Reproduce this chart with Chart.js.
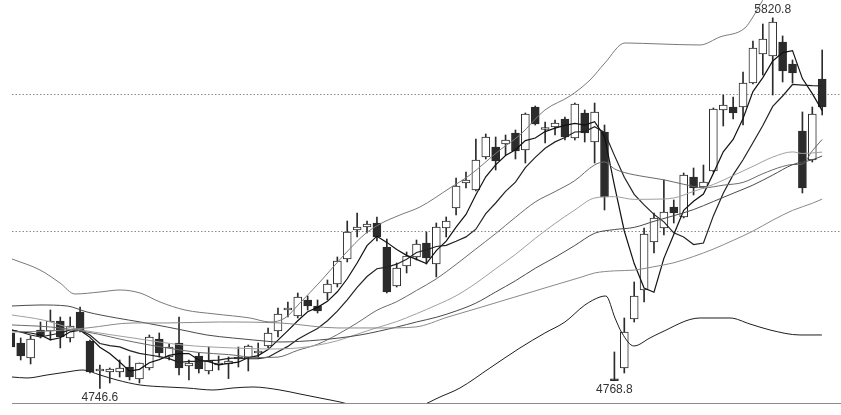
<!DOCTYPE html>
<html>
<head>
<meta charset="utf-8">
<script src="https://cdn.jsdelivr.net/npm/chart.js@4.4.0/dist/chart.umd.min.js"></script>
<style>
  html, body { margin: 0; padding: 0; background: #fff; }
  #wrap { width: 841px; height: 415px; }
</style>
</head>
<body>
<div id="wrap"><canvas id="my-chart"></canvas></div>
<script>
'use strict';

// >>> Candle data, one entry per bar <<<
let openArr = [
  4907.3, 4878.3, 4834.8, 4916.0, 4913.1, 4942.0, 4892.8, 4968.1, 4884.1, 4797.1,
  4794.2, 4794.2, 4808.7, 4773.9, 4805.8, 4889.9, 4837.7, 4878.3, 4811.6, 4840.6,
  4797.1, 4814.5, 4817.4, 4831.9, 4834.8, 4849.3, 4869.6, 4913.1, 4973.9, 4956.5,
  5002.9, 4985.5, 5023.2, 5049.3, 5121.8, 5205.8, 5214.5, 5226.1, 5156.5, 5043.5,
  5101.5, 5127.6, 5168.1, 5107.3, 5211.6, 5269.6, 5342.1, 5321.8, 5417.4, 5446.4,
  5455.1, 5487.0, 5437.7, 5562.3, 5497.1, 5504.4, 5527.6, 5472.5, 5545.0, 5460.9,
  5489.9, 4772.0, 4805.8, 4947.8, 5031.9, 5171.0, 5211.6, 5272.5, 5243.5, 5359.4,
  5330.5, 5376.8, 5553.7, 5562.3, 5562.3, 5631.9, 5716.0, 5710.2, 5750.8, 5687.0,
  5492.8, 5408.7, 5643.5
];
let highArr = [
  4916.0, 4892.8, 4898.6, 4939.1, 4973.9, 4953.6, 4953.6, 4982.6, 4887.0, 4814.5,
  4805.8, 4829.0, 4840.6, 4820.3, 4901.5, 4907.3, 4875.4, 4953.6, 4829.0, 4849.3,
  4866.7, 4840.6, 4837.7, 4866.7, 4872.5, 4878.3, 4921.8, 4979.7, 4997.1, 5023.2,
  5014.5, 5002.9, 5060.9, 5127.6, 5231.9, 5255.1, 5231.9, 5243.5, 5179.7, 5110.2,
  5142.0, 5176.8, 5200.0, 5226.1, 5243.5, 5356.5, 5373.9, 5469.6, 5484.1, 5475.4,
  5481.2, 5495.7, 5545.0, 5565.2, 5518.9, 5524.7, 5533.4, 5573.9, 5553.7, 5573.9,
  5510.2, 4852.2, 4950.7, 5055.1, 5211.6, 5255.1, 5350.8, 5292.8, 5371.0, 5385.5,
  5394.2, 5559.4, 5597.1, 5591.3, 5663.8, 5753.7, 5802.9, 5820.8, 5768.2, 5698.6,
  5547.9, 5562.3, 5727.6
];
let lowArr = [
  4858.0, 4829.0, 4817.4, 4892.8, 4887.0, 4863.8, 4881.2, 4910.2, 4791.3, 4746.6,
  4762.3, 4779.7, 4771.0, 4762.3, 4800.0, 4837.7, 4829.0, 4785.5, 4771.0, 4791.3,
  4788.4, 4800.0, 4775.0, 4808.7, 4797.1, 4837.7, 4863.8, 4895.7, 4953.6, 4950.7,
  4973.9, 4965.2, 5002.9, 5040.6, 5113.1, 5185.5, 5197.1, 5173.9, 5023.2, 5040.6,
  5081.2, 5118.9, 5107.3, 5069.6, 5185.5, 5249.3, 5327.6, 5318.9, 5411.6, 5379.7,
  5423.2, 5411.6, 5400.0, 5510.2, 5458.0, 5481.2, 5466.7, 5466.7, 5460.9, 5400.0,
  5263.8, 4768.8, 4791.3, 4939.1, 4997.1, 5139.1, 5191.3, 5226.1, 5240.6, 5307.3,
  5327.6, 5373.9, 5507.3, 5527.6, 5510.2, 5629.0, 5655.1, 5597.1, 5634.8, 5631.9,
  5313.1, 5402.9, 5539.2
];
let closeArr = [
  4866.7, 4840.6, 4889.9, 4898.6, 4942.0, 4895.7, 4927.6, 4913.1, 4794.2, 4800.0,
  4802.9, 4805.8, 4779.7, 4820.3, 4895.7, 4849.3, 4866.7, 4805.8, 4820.3, 4802.9,
  4826.1, 4820.3, 4826.1, 4837.7, 4869.6, 4855.1, 4907.3, 4962.3, 4976.8, 5011.6,
  4985.5, 4971.0, 5049.3, 5116.0, 5200.0, 5214.5, 5223.2, 5185.5, 5026.1, 5095.7,
  5130.5, 5165.2, 5124.7, 5214.5, 5231.9, 5333.4, 5350.8, 5408.7, 5475.4, 5405.8,
  5466.7, 5434.8, 5542.1, 5513.1, 5500.0, 5516.0, 5475.4, 5571.0, 5487.0, 5547.9,
  5301.5, 4768.8, 4910.2, 5014.5, 5194.2, 5240.6, 5258.0, 5255.1, 5365.2, 5327.6,
  5345.0, 5556.5, 5568.1, 5545.0, 5631.9, 5733.4, 5759.5, 5808.7, 5666.7, 5660.9,
  5327.6, 5542.1, 5562.3
];

// >>> Fast averages, read at every bar <<<
let ma5 = [
  4916.0, 4910.2, 4907.3, 4901.5, 4887.6, 4893.4, 4910.7, 4915.4, 4894.5, 4866.1,
  4847.6, 4823.2, 4796.5, 4801.8, 4820.9, 4830.2, 4842.3, 4847.6, 4847.6, 4829.0,
  4824.4, 4815.1, 4819.2, 4822.6, 4836.0, 4841.8, 4859.2, 4886.4, 4914.2, 4942.6,
  4968.7, 4981.5, 4998.9, 5026.7, 5064.4, 5110.2, 5160.6, 5187.9, 5169.9, 5149.0,
  5132.2, 5120.6, 5108.4, 5146.1, 5173.4, 5213.9, 5251.0, 5307.9, 5360.0, 5394.8,
  5421.5, 5438.3, 5465.0, 5472.5, 5491.0, 5500.9, 5509.0, 5514.8, 5509.6, 5519.5,
  5476.6, 5335.1, 5202.9, 5108.4, 5037.7, 5025.5, 5123.5, 5192.5, 5262.6, 5289.3,
  5310.2, 5369.9, 5432.5, 5468.4, 5529.3, 5607.0, 5647.6, 5695.7, 5720.0, 5725.8,
  5644.7, 5601.2, 5551.9
];
let ma10 = [
  4916.0, 4910.2, 4901.5, 4895.7, 4901.5, 4907.3, 4916.0, 4916.0, 4901.5, 4876.8,
  4870.5, 4867.0, 4856.0, 4848.1, 4843.5, 4838.9, 4832.8, 4822.1, 4824.7, 4825.0,
  4827.3, 4828.7, 4833.4, 4835.1, 4832.5, 4833.1, 4837.1, 4852.8, 4868.4, 4889.3,
  4905.2, 4920.3, 4942.6, 4970.5, 5003.5, 5039.4, 5071.0, 5093.4, 5098.3, 5106.7,
  5121.2, 5140.6, 5148.1, 5158.0, 5161.2, 5173.1, 5185.8, 5208.1, 5253.1, 5284.1,
  5317.7, 5344.7, 5386.4, 5416.3, 5442.9, 5461.2, 5473.7, 5489.9, 5491.0, 5505.3,
  5488.7, 5422.1, 5358.9, 5309.0, 5278.6, 5251.0, 5229.3, 5197.7, 5185.5, 5163.5,
  5167.9, 5246.7, 5312.5, 5365.5, 5409.3, 5458.6, 5508.7, 5564.1, 5594.2, 5627.6,
  5625.8, 5624.4, 5623.8
];

// >>> Slow averages, read at a few bars (bar position, value) <<<
let ma20Idx = [0.12, 4, 7.7, 12.4, 15.8, 19, 22, 25, 27, 29, 31, 33, 35, 37, 39, 41, 43, 45, 47, 49,
  51, 53, 55, 57, 59, 60, 61, 62, 64, 66, 68, 70, 72, 74, 76, 78, 79, 80, 81, 82];
let ma20 = [4930.5, 4924.6, 4910.2, 4881.2, 4863.8, 4850.7, 4844.7, 4836.0, 4837.4, 4857.1,
  4874.5, 4902.6, 4936.3, 4973.1, 4998.0, 5030.5, 5064.1, 5106.1, 5150.8, 5195.4,
  5242.6, 5287.0, 5317.1, 5349.0, 5394.5, 5403.2, 5383.2, 5372.5, 5360.6, 5351.3,
  5338.3, 5328.1, 5335.7, 5343.8, 5369.0, 5389.9, 5395.4, 5396.8, 5435.4, 5468.2];

let ma30Idx = [0.12, 3.25, 5.7, 7.7, 12.35, 17.4, 22.5, 26, 29, 31, 33, 35, 37, 39, 41, 43, 45, 47,
  49, 51, 53, 55, 57, 59, 61, 63, 65, 67, 69, 71, 73, 75, 77, 79, 80, 82];
let ma30 = [4959.4, 4944.9, 4924.6, 4913.1, 4892.8, 4872.5, 4863.8, 4860.9, 4863.8, 4871.9,
  4884.7, 4903.8, 4922.6, 4940.3, 4963.2, 4987.9, 5015.1, 5051.3, 5093.4, 5135.1,
  5181.5, 5224.7, 5263.8, 5298.6, 5302.4, 5294.5, 5295.1, 5298.6, 5317.7, 5337.7,
  5363.5, 5390.2, 5417.1, 5432.2, 5427.6, 5431.7];

let ma40Idx = [0.12, 2.95, 5.7, 7.7, 10.7, 13.1, 15.8, 17.8, 19.8, 22.4, 24.5, 27.2, 31.2, 35.3,
  39, 41, 43, 45, 47, 49, 51, 53, 55, 57, 59, 61, 63, 65, 67, 69, 71, 73, 75, 77, 79, 81, 82];
let ma40 = [4985.5, 4988.4, 4985.5, 4968.1, 4950.7, 4939.1, 4924.6, 4913.1, 4901.5, 4892.8,
  4887.0, 4881.2, 4887.0, 4901.5, 4924.4, 4939.1, 4952.8, 4971.0, 4993.9, 5026.1,
  5058.6, 5094.8, 5126.7, 5160.9, 5196.3, 5207.0, 5213.4, 5231.0, 5247.3, 5265.0,
  5288.4, 5312.2, 5336.0, 5365.0, 5395.1, 5409.3, 5420.3];

let ma60Idx = [0.12, 3.96, 7.7, 12.35, 15.78, 21.1, 27.2, 33.06, 37.3, 40.85, 44.18, 47.6, 50.95,
  54.3, 57.7, 59, 61, 63, 65, 67, 69, 71, 73, 75, 77, 79, 81, 82];
let ma60 = [4910.2, 4913.1, 4921.8, 4936.3, 4936.3, 4939.1, 4936.3, 4921.8, 4921.8, 4924.6,
  4953.6, 4982.6, 5011.6, 5040.6, 5069.6, 5081.2, 5087.3, 5089.6, 5099.4, 5110.8,
  5129.0, 5150.5, 5175.7, 5202.6, 5234.2, 5262.6, 5283.2, 5295.4];

// >>> Band lines <<<
let bandUpIdx = [0.12, 2.95, 4.97, 6.49, 9.01, 11.04, 13.06, 15.08, 17.6, 20.63, 24.17, 26.19,
  27.71, 29.22, 31.24, 33.77, 35.79, 37.31, 39.33, 41.35, 44.38, 46.4, 49.43, 51.45, 53.98,
  56.51, 58.53, 60.04, 62.06, 65.6, 69.64, 71.67, 74.19, 75.0, 75.71, 76.72, 81.97];
let bandUp = [5121.8, 5089.9, 5052.2, 5020.3, 5026.1, 5031.9, 5023.2, 4997.1, 4973.9, 4962.3,
  4950.7, 4939.1, 4950.7, 4994.2, 5055.1, 5136.3, 5194.2, 5223.2, 5249.3, 5272.5,
  5327.6, 5365.2, 5437.7, 5481.2, 5553.7, 5594.2, 5640.4, 5689.9, 5747.9, 5745.0,
  5742.1, 5765.3, 5791.3, 5823.2, 5858.0, 5907.3, 6002.9];

let bandLowIdx = [0.12, 1.64, 3.66, 5.68, 7.3, 9.01, 10.73, 13.06, 15.78, 17.8, 20.43, 22.45,
  24.48, 27.2, 29.22, 31.24, 33.27, 37.31, 41.35, 43.37, 45.39, 48.42, 51.45, 53.98, 56.0,
  58.02, 59.54, 60.14, 61.06, 61.76, 62.97, 64.59, 65.6, 69.64, 72.68, 74.7, 76.72, 79.75, 81.97];
let bandLow = [4779.7, 4776.8, 4785.5, 4794.2, 4800.0, 4785.5, 4771.0, 4756.5, 4750.7, 4747.8,
  4742.0, 4747.8, 4750.7, 4742.0, 4730.4, 4718.8, 4707.2, 4678.2, 4695.6, 4721.7,
  4747.8, 4805.8, 4863.8, 4907.3, 4939.1, 4988.4, 5011.6, 5014.5, 4950.7, 4907.3,
  4869.6, 4892.8, 4907.3, 4950.7, 4950.7, 4933.3, 4916.0, 4901.5, 4901.5];

// >>> Dotted grid levels and noted bars <<<
let gridValues = [5200, 5600];
let markBars = [77, 9, 61];
let markSide = ['high', 'low', 'low'];


// >>> Helper functions <<<

// pairs bar positions with values
function toPoints(idx, vals) {
  return idx.map((x, i) => ({ x: x, y: vals[i] }));
}

function lineSet(points, color, width, smooth) {
  return {
    type: 'line',
    data: points,
    borderColor: color,
    borderWidth: width,
    pointRadius: 0,
    tension: 0,
    cubicInterpolationMode: smooth ? 'monotone' : 'default',
    order: 0,
    clip: 0
  };
}

let barIdx = openArr.map((v, i) => i);
let wickData = [];
let bodyData = [];
let bodyColors = [];
for (let i = 0; i < openArr.length; i++) {
  wickData.push({ x: i, y: [lowArr[i], highArr[i]] });
  bodyData.push({ x: i, y: [openArr[i], closeArr[i]] });
  // hollow for up bars, filled for down bars
  bodyColors.push(closeArr[i] >= openArr[i] ? '#ffffff' : '#2b2b2b');
}

// >>> plugin for the high / low notes <<<
const markPlugin = {
  id: 'marks',
  afterDatasetsDraw(chart) {
    let ctx = chart.ctx;
    let xs = chart.scales.x;
    let ys = chart.scales.y;
    ctx.save();
    ctx.font = '12px "Liberation Sans", Arial, sans-serif';
    ctx.fillStyle = '#333';
    ctx.textAlign = 'center';
    markBars.forEach((bar, k) => {
      let isHigh = markSide[k] === 'high';
      let val = isHigh ? highArr[bar] : lowArr[bar];
      let px = xs.getPixelForValue(bar);
      let py = ys.getPixelForValue(val);
      ctx.textBaseline = isHigh ? 'bottom' : 'top';
      ctx.fillText(val.toFixed(1), px, isHigh ? py - 2 : py + 3);
    });
    ctx.restore();
  }
};

const whiteBg = {
  id: 'whiteBg',
  beforeDraw(chart) {
    let ctx = chart.ctx;
    ctx.save();
    ctx.fillStyle = '#fff';
    ctx.fillRect(0, 0, chart.width, chart.height);
    ctx.restore();
  }
};


// >>> Chart <<<
let canvasElement = document.getElementById('my-chart').getContext('2d');

let myChart = new Chart(canvasElement, {
  type: 'bar',
  data: {
    datasets: [
      lineSet(toPoints(bandUpIdx, bandUp), '#7a7a7a', 1, true),
      lineSet(toPoints(bandLowIdx, bandLow), '#1e1e1e', 1, true),
      lineSet(toPoints(ma60Idx, ma60), '#8a8a8a', 1, true),
      lineSet(toPoints(ma40Idx, ma40), '#4a4a4a', 1, true),
      lineSet(toPoints(ma30Idx, ma30), '#a0a0a0', 1, true),
      lineSet(toPoints(ma20Idx, ma20), '#6a6a6a', 1, true),
      lineSet(toPoints(barIdx, ma10), '#222', 1.2, false),
      lineSet(toPoints(barIdx, ma5), '#111', 1.2, false),
      {
        type: 'bar',
        data: bodyData,
        backgroundColor: bodyColors,
        borderColor: '#2b2b2b',
        borderWidth: 1,
        borderSkipped: false,
        barThickness: 8,
        minBarLength: 2,
        grouped: false,
        order: 1
      },
      {
        type: 'bar',
        data: wickData,
        backgroundColor: '#2b2b2b',
        borderWidth: 0,
        barThickness: 1,
        grouped: false,
        order: 2
      }
    ]
  },
  options: {
    responsive: true,
    maintainAspectRatio: false,
    animation: false,
    events: [],
    layout: { padding: { left: 12, right: 0, top: 0, bottom: 12 } },
    plugins: {
      legend: { display: false },
      tooltip: { enabled: false }
    },
    scales: {
      x: {
        type: 'linear',
        min: 0.12,
        max: 83.9,
        offset: false,
        ticks: { display: false },
        grid: { display: false, drawTicks: false },
        border: { display: true, color: '#8c8c8c', width: 1 },
        afterFit: (s) => { s.height = 0; }
      },
      y: {
        type: 'linear',
        min: 4704.3,
        max: 5872.5,
        afterBuildTicks: (s) => { s.ticks = gridValues.map(v => ({ value: v })); },
        ticks: { display: false },
        grid: { color: '#8a8a8a', lineWidth: 1, drawTicks: false },
        border: { display: false, dash: [1.5, 2] },
        afterFit: (s) => { s.width = 0; }
      }
    }
  },
  plugins: [whiteBg, markPlugin]
});
</script>
</body>
</html>
